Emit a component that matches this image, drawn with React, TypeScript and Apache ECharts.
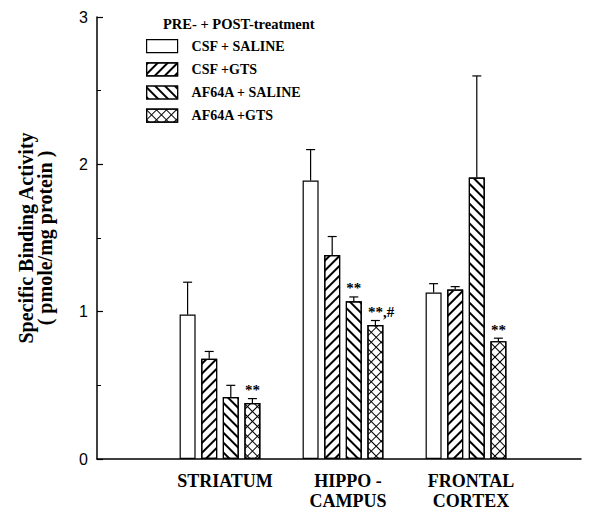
import React, { useEffect, useRef } from 'react';
import * as echarts from 'echarts';

const regions = ['STRIATUM', 'HIPPO -\nCAMPUS', 'FRONTAL\nCORTEX'];
const groupNames = ['CSF + SALINE', 'CSF +GTS', 'AF64A + SALINE', 'AF64A +GTS'];
const legendTitle = 'PRE- + POST-treatment';
const yAxisName = 'Specific Binding Activity\n( pmole/mg protein )';

const csfSaline = [0.98, 1.89, 1.13];
const csfSalineErr = [1.2, 2.1, 1.19];
const csfGts = [0.68, 1.385, 1.15];
const csfGtsErr = [0.73, 1.51, 1.17];
const afSaline = [0.42, 1.07, 1.91];
const afSalineErr = [0.5, 1.1, 2.6];
const afGts = [0.38, 0.91, 0.8];
const afGtsErr = [0.41, 0.94, 0.82];

const sigStars = [
  ['', '', ''],
  ['', '', ''],
  ['', '**', ''],
  ['**', '**', '**'],
];
const sigSuffix = [
  ['', '', ''],
  ['', '', ''],
  ['', '', ''],
  ['', ',#', ''],
];

const yTicks = [0, 1, 2, 3];

const means = [csfSaline, csfGts, afSaline, afGts];
const errTops = [csfSalineErr, csfGtsErr, afSalineErr, afGtsErr];

const BAR_W = 16;
const BAR_GAP = 0.35;
const SERIF = '"Liberation Serif", "Times New Roman", serif';

const decals: any[] = [
  null,
  {
    symbol: 'rect', symbolSize: 1, color: '#000', backgroundColor: null,
    dashArrayX: [1, 0], dashArrayY: [2, 5], rotation: -Math.PI / 4,
  },
  {
    symbol: 'rect', symbolSize: 1, color: '#000', backgroundColor: null,
    dashArrayX: [1, 0], dashArrayY: [2, 5], rotation: Math.PI / 4,
  },
  {
    symbol: 'rect', symbolSize: 1, color: '#000', backgroundColor: null,
    dashArrayX: [[1, 0], [1, 6]], dashArrayY: [1, 0, 6, 0], rotation: Math.PI / 4,
  },
];

export default function App() {
  const ref = useRef<HTMLDivElement>(null);
  useEffect(() => {
    if (!ref.current) return;
    const chart = echarts.init(ref.current, undefined, { renderer: 'svg' });

    const errRows: { x: number; mean: number; top: number; s: number; stars: string; suffix: string }[] = [];
    means.forEach((vals, s) => {
      vals.forEach((v, c) => {
        errRows.push({ x: c + 1, mean: v, top: errTops[s][c], s, stars: sigStars[s][c], suffix: sigSuffix[s][c] });
      });
    });

    const barSeries = groupNames.map((name, s) => ({
      name,
      type: 'bar',
      barWidth: BAR_W,
      barGap: BAR_GAP * 100 + '%',
      data: means[s].map((v, c) => [c + 1, v]),
      itemStyle: {
        color: '#fff',
        borderColor: '#000',
        borderWidth: 1.2,
        ...(decals[s] ? { decal: decals[s] } : {}),
      },
      z: 2,
    }));

    const option: any = {
      animation: false,
      backgroundColor: '#fff',
      title: {
        text: legendTitle,
        left: 163,
        top: 16,
        padding: 0,
        textStyle: { fontFamily: SERIF, fontWeight: 'bold', fontSize: 14.5, color: '#000' },
      },
      legend: {
        orient: 'vertical',
        left: 146,
        top: 39,
        padding: 0,
        itemWidth: 31,
        itemHeight: 13,
        itemGap: 9,
        icon: 'rect',
        selectedMode: false,
        data: groupNames,
        textStyle: { fontFamily: SERIF, fontWeight: 'bold', fontSize: 14, color: '#000', padding: [0, 0, 0, 9] },
        itemStyle: { borderColor: '#000', borderWidth: 1.2 },
      },
      grid: { left: 97, right: 4, top: 17, bottom: 53, containLabel: false },
      xAxis: {
        type: 'value',
        min: 0,
        max: 3.935,
        interval: 1,
        axisLine: { show: true, lineStyle: { color: '#000', width: 1.5 } },
        axisTick: { show: false },
        splitLine: { show: false },
        axisLabel: {
          margin: 12,
          padding: [0, 0, 0, 10],
          fontFamily: SERIF,
          fontWeight: 'bold',
          fontSize: 18,
          lineHeight: 20,
          color: '#000',
          formatter: (v: number) => (Number.isInteger(v) && v >= 1 && v <= regions.length ? regions[v - 1] : ''),
        },
      },
      yAxis: {
        type: 'value',
        min: yTicks[0],
        max: yTicks[yTicks.length - 1],
        interval: 1,
        name: yAxisName,
        nameLocation: 'middle',
        nameGap: 43,
        nameTextStyle: { fontFamily: SERIF, fontWeight: 'bold', fontSize: 20, lineHeight: 19, color: '#000' },
        axisLine: { show: true, lineStyle: { color: '#000', width: 1.5 } },
        axisTick: { show: true, inside: true, length: 6, lineStyle: { color: '#000', width: 1.2 } },
        minorTick: { show: true, splitNumber: 2, length: 4, lineStyle: { color: '#000', width: 1 } },
        splitLine: { show: false },
        axisLabel: { margin: 9, fontFamily: '"Liberation Sans", Arial, sans-serif', fontSize: 16, color: '#000' },
      },
      series: [
        ...barSeries,
        {
          type: 'custom',
          name: 'err',
          z: 3,
          data: errRows.map((r) => [r.x, r.mean, r.top, r.s]),
          renderItem: (params: any, api: any) => {
            const row = errRows[params.dataIndex];
            const off = (row.s - 1.5) * (BAR_W * (1 + BAR_GAP));
            const pBase = api.coord([row.x, row.mean]);
            const pTop = api.coord([row.x, row.top]);
            const cx = pBase[0] + off;
            const children: any[] = [
              { type: 'line', shape: { x1: cx, y1: pBase[1], x2: cx, y2: pTop[1] }, style: { stroke: '#000', lineWidth: 1.2 } },
              { type: 'line', shape: { x1: cx - 4.5, y1: pTop[1], x2: cx + 4.5, y2: pTop[1] }, style: { stroke: '#000', lineWidth: 1.2 } },
            ];
            if (row.stars) {
              children.push({
                type: 'text',
                style: { text: row.stars, x: cx, y: pTop[1] - 1, align: 'center', verticalAlign: 'bottom', font: 'bold 15px ' + SERIF, fill: '#000' },
              });
            }
            if (row.suffix) {
              children.push({
                type: 'text',
                style: { text: row.suffix, x: cx + 7.5, y: pTop[1] - 1, align: 'left', verticalAlign: 'bottom', font: 'bold 15px ' + SERIF, fill: '#000' },
              });
            }
            return { type: 'group', children };
          },
        },
      ],
    };
    chart.setOption(option);
    return () => chart.dispose();
  }, []);
  return <div ref={ref} style={{ position: 'fixed', left: 0, top: 0, width: 589, height: 512 }} />;
}
